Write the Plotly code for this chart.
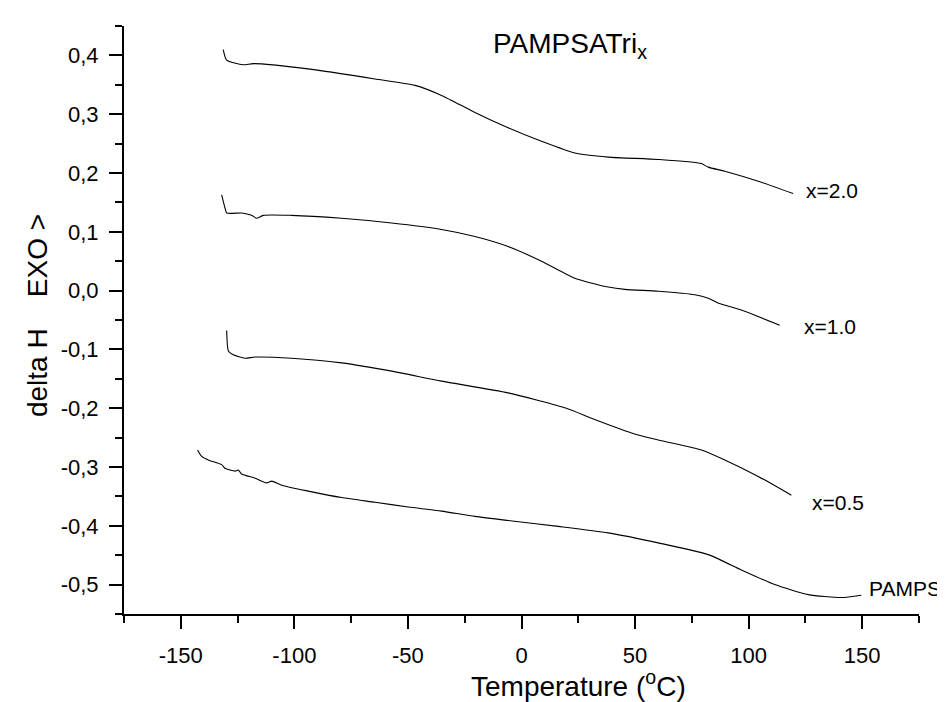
import plotly.graph_objects as go

# ---- data ----
x20_T = [-131.3, -129.8, -122.5, -118.0, -94.0, -64.5, -46.9, -35.2, -20.5, -5.9, 8.8, 23.5, 38.2, 60.2, 79.2, 82.2, 89.5, 104.2, 119.6]
x20_H = [0.410, 0.392, 0.384, 0.386, 0.377, 0.360, 0.349, 0.332, 0.303, 0.277, 0.254, 0.234, 0.227, 0.223, 0.216, 0.210, 0.203, 0.186, 0.165]

x10_T = [-132.0, -130.5, -129.8, -123.2, -118.8, -116.6, -113.7, -101.2, -79.2, -57.2, -35.2, -20.5, -5.9, 8.8, 23.5, 38.2, 45.5, 60.2, 76.3, 82.2, 86.5, 96.8, 113.7]
x10_H = [0.163, 0.140, 0.132, 0.132, 0.128, 0.123, 0.128, 0.128, 0.123, 0.115, 0.104, 0.092, 0.075, 0.050, 0.021, 0.006, 0.002, -0.001, -0.007, -0.013, -0.021, -0.033, -0.059]

x05_T = [-129.8, -129.0, -126.9, -121.7, -117.3, -101.2, -79.2, -57.2, -35.2, -5.9, 19.8, 30.8, 48.4, 60.2, 79.2, 89.5, 104.2, 118.8]
x05_H = [-0.068, -0.103, -0.109, -0.115, -0.113, -0.115, -0.123, -0.137, -0.154, -0.174, -0.200, -0.217, -0.242, -0.254, -0.271, -0.288, -0.316, -0.348]

pamps_T = [-142.6, -140.8, -137.9, -132.0, -130.6, -126.1, -124.7, -123.2, -117.3, -112.2, -110.0, -105.6, -93.9, -79.2, -64.5, -49.9, -35.2, -20.5, -5.9, 16.2, 38.2, 60.2, 82.2, 96.8, 111.5, 126.2, 140.8, 149.6]
pamps_H = [-0.271, -0.282, -0.288, -0.296, -0.302, -0.307, -0.305, -0.312, -0.319, -0.327, -0.324, -0.331, -0.341, -0.352, -0.360, -0.368, -0.375, -0.384, -0.391, -0.401, -0.412, -0.429, -0.449, -0.475, -0.500, -0.517, -0.522, -0.518]

series_names = ["x=2.0", "x=1.0", "x=0.5", "PAMPS"]

x_tickvals = [-150, -100, -50, 0, 50, 100, 150]
x_ticktext = ["-150", "-100", "-50", "0", "50", "100", "150"]
y_tickvals = [0.4, 0.3, 0.2, 0.1, 0.0, -0.1, -0.2, -0.3, -0.4, -0.5]
y_ticktext = ["0,4", "0,3", "0,2", "0,1", "0,0", "-0,1", "-0,2", "-0,3", "-0,4", "-0,5"]

FONT = "Arial, Liberation Sans, sans-serif"

fig = go.Figure()
for T, H, name in [(x20_T, x20_H, series_names[0]), (x10_T, x10_H, series_names[1]),
                   (x05_T, x05_H, series_names[2]), (pamps_T, pamps_H, series_names[3])]:
    fig.add_trace(go.Scatter(x=T, y=H, mode="lines", name=name,
                             line=dict(color="black", width=1.1, shape="spline", smoothing=0.6)))

# series labels placed next to the curve ends
label_pos = [(124.7, 0.170), (124.0, -0.061), (127.6, -0.361), (152.5, -0.506)]
for name, (lx, ly) in zip(series_names, label_pos):
    fig.add_annotation(x=lx, y=ly, xref="x", yref="y", text=name, showarrow=False,
                       xanchor="left", yanchor="middle", borderpad=0,
                       font=dict(family=FONT, size=21, color="black"))

# title
fig.add_annotation(x=0.462, y=1.0, xref="paper", yref="paper",
                   text="PAMPSATri<sub>x</sub>", showarrow=False,
                   xanchor="left", yanchor="top",
                   font=dict(family=FONT, size=28, color="black"))
# x-axis title
fig.add_annotation(x=0.572, y=-0.153, xref="paper", yref="paper",
                   text="Temperature (<sup>o</sup>C)", showarrow=False,
                   xanchor="center", yanchor="bottom",
                   font=dict(family=FONT, size=28, color="black"))
# y-axis title
fig.add_annotation(x=-0.108, y=0.507, xref="paper", yref="paper",
                   text="delta H\u00a0\u00a0\u00a0\u00a0EXO >", showarrow=False,
                   textangle=-90, xanchor="center", yanchor="middle",
                   font=dict(family=FONT, size=28, color="black"))

fig.update_xaxes(range=[-175, 175], showline=True, linecolor="black", linewidth=2,
                 ticks="outside", ticklen=13, tickwidth=2, tickcolor="black",
                 tickvals=x_tickvals, ticktext=x_ticktext,
                 minor=dict(dtick=25, tick0=0, ticks="outside", ticklen=7, tickwidth=2, tickcolor="black", showgrid=False),
                 showgrid=False, zeroline=False, ticklabelstandoff=8,
                 tickfont=dict(family=FONT, size=22, color="black"))
fig.update_yaxes(range=[-0.55, 0.45], showline=True, linecolor="black", linewidth=2,
                 ticks="outside", ticklen=13, tickwidth=2, tickcolor="black",
                 tickvals=y_tickvals, ticktext=y_ticktext,
                 minor=dict(dtick=0.05, tick0=0, ticks="outside", ticklen=7, tickwidth=2, tickcolor="black", showgrid=False),
                 showgrid=False, zeroline=False, ticklabelstandoff=6,
                 tickfont=dict(family=FONT, size=22, color="black"))

fig.update_layout(width=945, height=702, showlegend=False,
                  margin=dict(l=116, r=34, t=18, b=96),
                  plot_bgcolor="white", paper_bgcolor="white")

fig.write_html("out.html")
